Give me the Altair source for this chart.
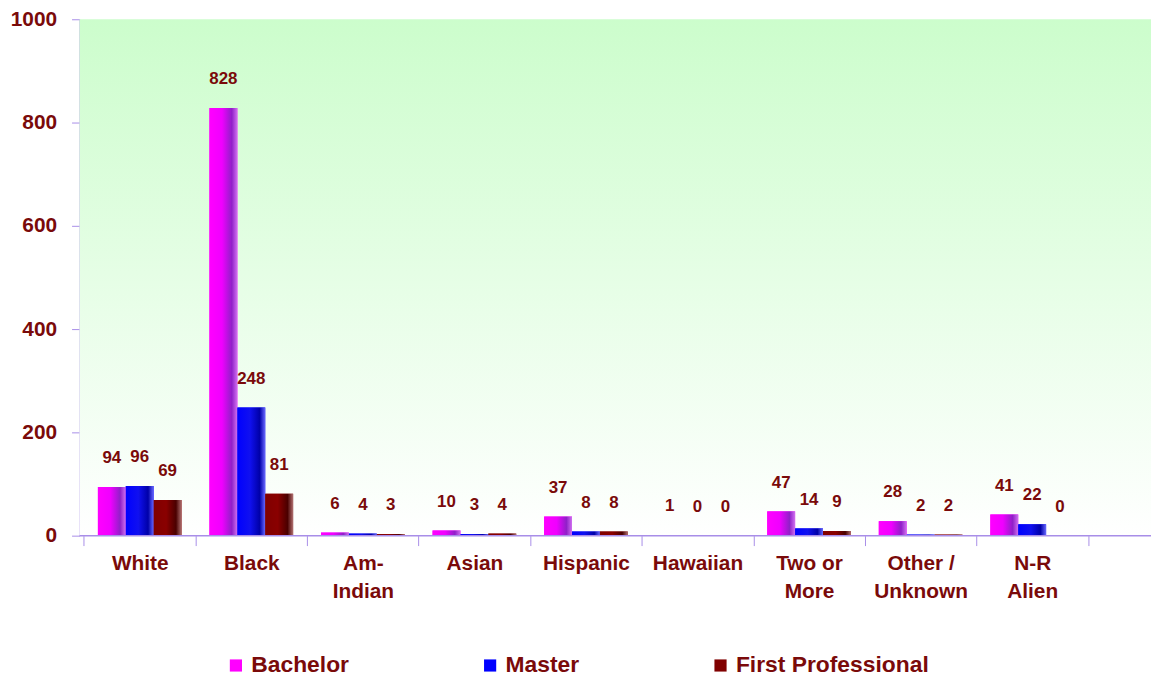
import altair as alt
import pandas as pd

categories = ["White", "Black", "Am-|Indian", "Asian", "Hispanic", "Hawaiian",
              "Two or|More", "Other /|Unknown", "N-R|Alien"]
series = ["Bachelor", "Master", "First Professional"]
bachelor = [94, 828, 6, 10, 37, 1, 47, 28, 41]
master = [96, 248, 4, 3, 8, 0, 14, 2, 22]
first_prof = [69, 81, 3, 4, 8, 0, 9, 2, 0]

colors = ["#ff00ff", "#0000ff", "#800000"]
shades = [
    ["#ff00ff", "#f000ff", "#9020c8", "#d070f0"],
    ["#0000ff", "#1010f0", "#0000a8", "#6868ff"],
    ["#800000", "#8a0000", "#4a0000", "#b07070"],
]
text_color = "#7a0a0a"
axis_color = "#a88ee8"

rows = []
for i, c in enumerate(categories):
    for s, vals in zip(series, [bachelor, master, first_prof]):
        rows.append({"category": c, "series": s, "value": vals[i]})
df = pd.DataFrame(rows)

W, H = 1079, 520

x_scale = alt.Scale(range=[0, 1020], paddingInner=0, paddingOuter=0.04)
xoff_scale = alt.Scale(paddingInner=0, paddingOuter=0.5)

x_enc = alt.X("category:N", sort=categories, scale=x_scale,
              axis=alt.Axis(title=None, labelAngle=0, domain=False, ticks=True,
                            tickBand="extent", tickSize=10, tickColor=axis_color,
                            labelExpr="split(datum.label, '|')",
                            labelFont="Liberation Sans", labelFontWeight="bold",
                            labelFontSize=21, labelColor=text_color,
                            labelPadding=7, labelLineHeight=28))
xoff = alt.XOffset("series:N", sort=series, scale=xoff_scale)
y_enc = alt.Y("value:Q", scale=alt.Scale(domain=[0, 1000]),
              axis=alt.Axis(title=None, values=[0, 200, 400, 600, 800, 1000],
                            format="d", grid=False, domainColor=axis_color,
                            tickColor=axis_color, tickSize=8, labelPadding=15,
                            labelFont="Liberation Sans", labelFontWeight="bold",
                            labelFontSize=21, labelColor=text_color))

bg = alt.Chart(alt.Data(values=[{"a": 1}])).mark_rect(
    color=alt.Gradient(gradient="linear", x1=0, y1=0, x2=0, y2=1,
                       stops=[alt.GradientStop(color="#ccfdcc", offset=0),
                              alt.GradientStop(color="#ffffff", offset=1)])
).encode(x=alt.value(0), x2=alt.value(W), y=alt.value(0), y2=alt.value(H))

bars = alt.Chart(df).mark_bar(stroke=None).encode(
    x=x_enc, xOffset=xoff, y=y_enc,
    color=alt.Color("series:N", sort=series,
                    scale=alt.Scale(domain=series, range=colors),
                    legend=alt.Legend(title=None, orient="none", direction="horizontal",
                                      legendX=146, legendY=H + 119,
                                      symbolType="square", symbolSize=150,
                                      symbolStrokeWidth=0,
                                      labelFont="Liberation Sans", labelFontWeight="bold",
                                      labelFontSize=23, labelColor=text_color,
                                      labelOffset=4, columnPadding=130,
                                      labelLimit=400)),
)

overlays = []
for s, st in zip(series, shades):
    overlays.append(
        alt.Chart(df).transform_filter(alt.datum.series == s).mark_bar(
            color=alt.Gradient(gradient="linear", x1=0, y1=0, x2=1, y2=0,
                               stops=[alt.GradientStop(color=st[0], offset=0),
                                      alt.GradientStop(color=st[1], offset=0.45),
                                      alt.GradientStop(color=st[2], offset=0.8),
                                      alt.GradientStop(color=st[3], offset=1)])
        ).encode(x=alt.X("category:N", sort=categories),
                 xOffset=alt.XOffset("series:N", sort=series),
                 y="value:Q")
    )

labels = alt.Chart(df).mark_text(
    font="Liberation Sans", fontWeight="bold", fontSize=17, color=text_color,
    baseline="bottom", dy=-20
).encode(x=alt.X("category:N", sort=categories), xOffset=alt.XOffset("series:N", sort=series),
         y="value:Q", text="value:Q")

base_line = alt.Chart(alt.Data(values=[{"a": 1}])).mark_rule(
    color=axis_color, strokeWidth=1.5
).encode(x=alt.value(0), x2=alt.value(W), y=alt.value(H))

chart = alt.layer(bg, bars, *overlays, labels, base_line).properties(
    width=W, height=H,
    autosize=alt.AutoSizeParams(type="none"),
    padding={"left": 72, "top": 9, "right": 0, "bottom": 140}
).configure_view(stroke=None)

chart.save("out.html", embed_options={"renderer": "svg", "actions": False})
